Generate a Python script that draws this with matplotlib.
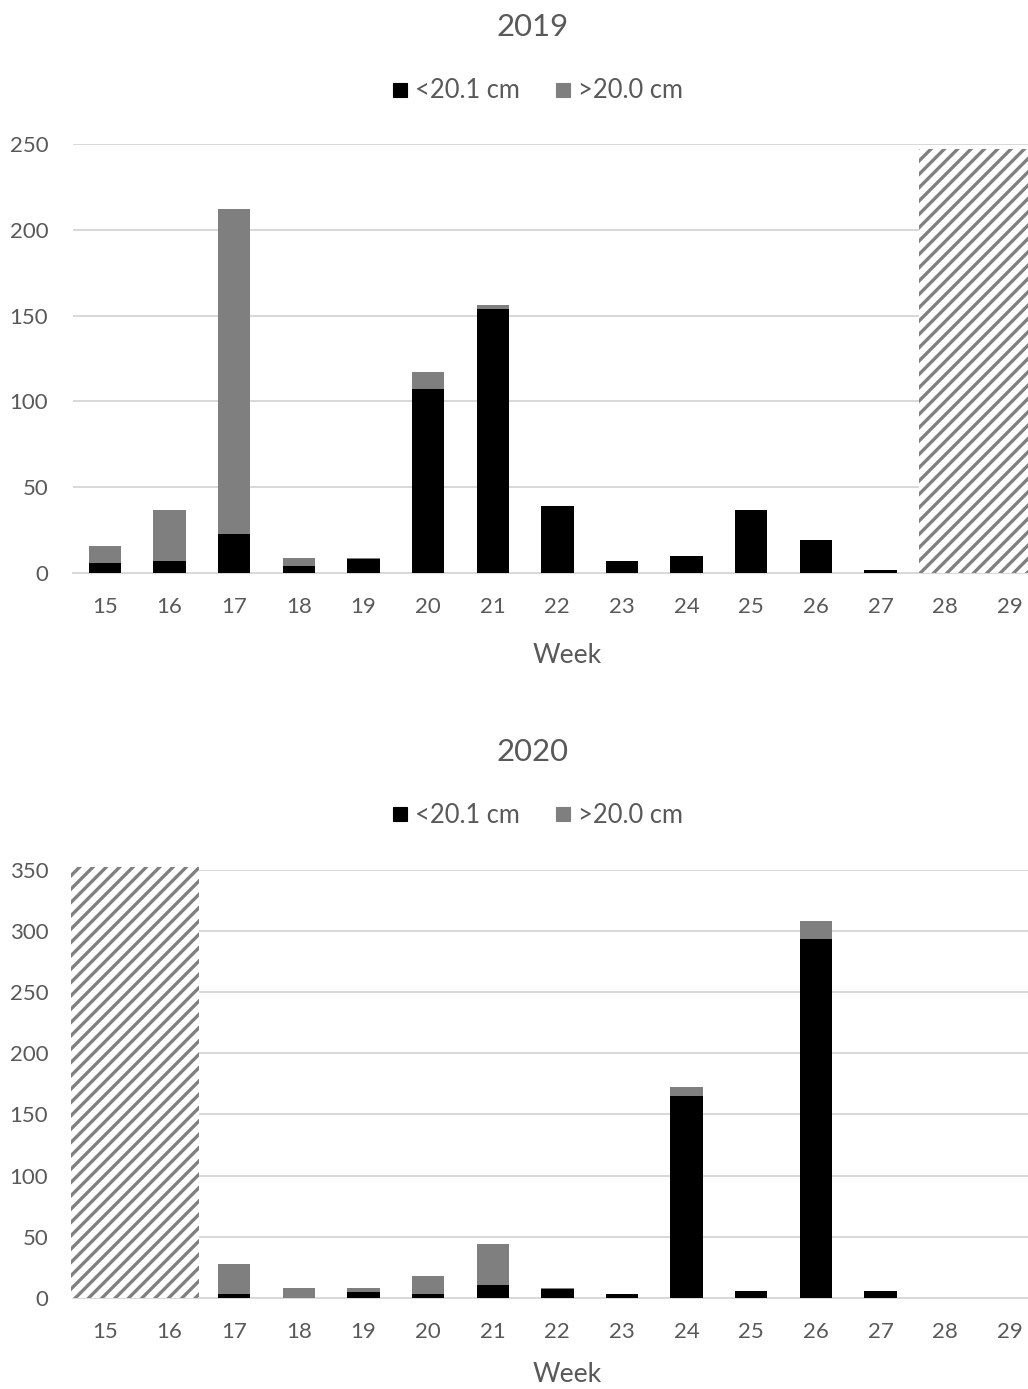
import matplotlib
matplotlib.use("Agg")
import matplotlib.pyplot as plt
from matplotlib.patches import Rectangle
from matplotlib.lines import Line2D
import numpy as np

# Weekly catch counts by length class
weeks = [15, 16, 17, 18, 19, 20, 21, 22, 23, 24, 25, 26, 27, 28, 29]
series_labels = ["<20.1 cm", ">20.0 cm"]

small_2019 = [6, 7, 23, 4, 8, 107, 154, 39, 7, 10, 37, 19, 2, 0, 0]
large_2019 = [10, 30, 189, 5, 1, 10, 2, 0, 0, 0, 0, 0, 0, 0, 0]

small_2020 = [0, 0, 3, 0, 5, 3, 11, 7, 3, 165, 6, 293, 6, 0, 0]
large_2020 = [0, 0, 25, 8, 3, 15, 33, 1, 0, 7, 0, 15, 0, 0, 0]

# Weeks without sampling, shown as hatched blocks (x range, height)
no_sampling_2019 = (27.6, 29.9, 247)
no_sampling_2020 = (14.47, 16.45, 352)

DPI = 80
W, H = 1028, 1389
TXT = "#595959"
GRID = "#D9D9D9"
BLACK = "#000000"
GREY = "#7F7F7F"

plt.rcParams["font.family"] = ["Lato", "DejaVu Sans"]
plt.rcParams["hatch.linewidth"] = 3.0

fig = plt.figure(figsize=(W / DPI, H / DPI), dpi=DPI)
fig.patch.set_facecolor("white")


def px_to_fx(x):
    return x / W


def px_to_fy(y):
    return 1 - y / H


def draw_panel(ax, small, large, ymax, hatch_span):
    x = np.array(weeks)
    ax.bar(x, small, width=0.5, color=BLACK, zorder=3)
    ax.bar(x, large, width=0.5, bottom=small, color=GREY, zorder=3)
    ax.set_xlim(14.5, 29.5)
    ax.set_ylim(0, ymax)
    ax.set_yticks(np.arange(0, ymax + 1, 50))
    ax.set_xticks(x)
    ax.set_xticklabels([str(w) for w in weeks])
    ax.grid(axis="y", color=GRID, linewidth=1.8, zorder=0)
    ax.set_axisbelow(True)
    for s in ("top", "right", "left"):
        ax.spines[s].set_visible(False)
    ax.spines["bottom"].set_color(GRID)
    ax.spines["bottom"].set_linewidth(1.8)
    ax.tick_params(axis="both", length=0, colors=TXT, labelsize=20)
    ax.tick_params(axis="y", pad=22)
    ax.tick_params(axis="x", pad=22)
    x0, x1, top = hatch_span
    rect = Rectangle((x0, 0), x1 - x0, top, facecolor="white",
                     edgecolor="#808080", linewidth=0, hatch="//",
                     zorder=4, clip_on=False)
    ax.add_patch(rect)


left = px_to_fx(72.7)
width = (1042 - 72.7) / W

ax1 = fig.add_axes([left, px_to_fy(573), width, (573 - 144) / H])
draw_panel(ax1, small_2019, large_2019, 250, no_sampling_2019)

ax2 = fig.add_axes([left, px_to_fy(1298), width, (1298 - 869.5) / H])
draw_panel(ax2, small_2020, large_2020, 350, no_sampling_2020)

handles = [
    Line2D([], [], marker="s", linestyle="none", markersize=13,
           markerfacecolor=BLACK, markeredgecolor=BLACK),
    Line2D([], [], marker="s", linestyle="none", markersize=13,
           markerfacecolor=GREY, markeredgecolor=GREY),
]

for title, ty, ly, wy in (("2019", 27, 91, 655), ("2020", 752, 815, 1375)):
    fig.text(px_to_fx(533), px_to_fy(ty), title, ha="center", va="center",
             fontsize=28, color=TXT)
    fig.legend(handles, series_labels, loc="center",
               bbox_to_anchor=(px_to_fx(538), px_to_fy(ly)), ncol=2,
               frameon=False, fontsize=23, labelcolor=TXT,
               handlelength=0.55, handletextpad=0.3, columnspacing=1.4,
               borderpad=0)
    fig.text(px_to_fx(567), px_to_fy(wy), "Week", ha="center", va="center",
             fontsize=24, color=TXT)

fig.savefig("out.png", dpi=DPI, facecolor="white")
